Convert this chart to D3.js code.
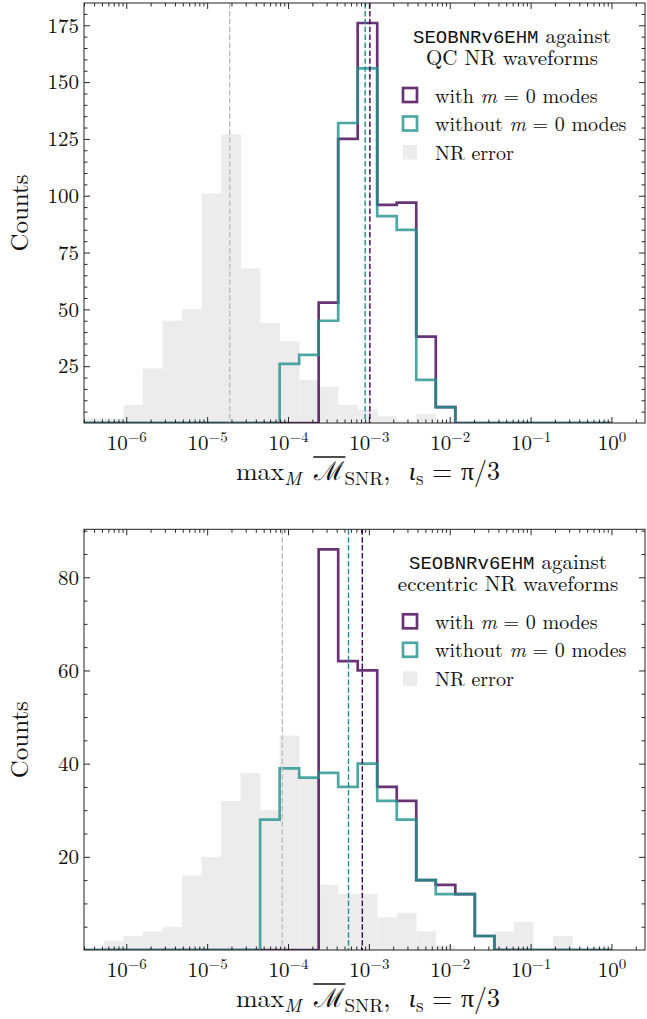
<!DOCTYPE html>
<html lang="en">
<head>
<meta charset="utf-8">
<title>SEOBNRv6EHM mismatch histograms</title>
<script src="https://cdn.jsdelivr.net/npm/d3@7"></script>
<style>
  html, body { margin: 0; padding: 0; background: #fff; }
  svg { display: block; }
  text { font-family: "Latin Modern Roman", "CMU Serif", "Liberation Serif", serif; fill: #111; }
  .tt { font-family: "Liberation Mono", "DejaVu Sans Mono", monospace; }
</style>
</head>
<body>
<svg id="fig" width="647" height="1019"></svg>
<script>

// 29 log-spaced bins between 1e-7 and 1 (edges as log10 exponents)
const binEdges = d3.range(30).map(k => -7 + k * 7 / 29);

// counts per bin -- QC NR set (top panel)
const qcNrError = [0,0,2,2,8,24,45,50,101,127,68,44,36,19,16,8,6,3,1,4,1,0,0,0,0,0,0,0,0];
const qcWith    = [0,0,0,0,0,0,0,0,0,0,0,0,0,0,53,125,176,96,97,38,7,0,0,0,0,0,0,0,0];
const qcWithout = [0,0,0,0,0,0,0,0,0,0,0,0,26,30,45,132,156,91,85,19,7,0,0,0,0,0,0,0,0];
// medians [NR error, with m=0, without m=0]
const qcMedians = [1.9e-5, 1.03e-3, 9.0e-4];

// counts per bin -- eccentric NR set (bottom panel)
const eccNrError = [0,0,0,2,3,4,5,16,20,32,38,30,46,37,14,12,12,7,8,4,1,0,0,4,6,0,3,0,0];
const eccWith    = [0,0,0,0,0,0,0,0,0,0,0,0,0,0,86,62,60,35,32,15,14,12,3,0,0,0,0,0,0];
const eccWithout = [0,0,0,0,0,0,0,0,0,0,0,28,39,37,38,35,40,32,28,15,12,12,3,0,0,0,0,0,0];
const eccMedians = [8.5e-5, 8.3e-4, 5.6e-4];

const xTickExps = [-6, -5, -4, -3, -2, -1, 0];
const legendLabels = ["with", "without", "NR error"];

const cols = {
  with: "#440154",
  without: "#21918c",
  nr: "#ececec",
  nrLine: "#bdbdbd"
};

const svg = d3.select("#fig");
const left = 84, right = 645;

const x = d3.scaleLog().domain([3e-7, 2.6]).range([left, right]);

// minor ticks 2..9 per decade inside the domain
const xMinor = [];
for (let d = -7; d <= 0; d++) {
  for (let m = 2; m <= 9; m++) {
    const v = m * Math.pow(10, d);
    if (v >= 3e-7 && v <= 2.6) xMinor.push(v);
  }
}

const panels = [
  { id: "qc", top: 3, bottom: 423, nr: qcNrError, w: qcWith, wo: qcWithout, med: qcMedians,
    yStep: 25, title2: "QC NR waveforms", titleX: 512 },
  { id: "ecc", top: 529.3, bottom: 950, nr: eccNrError, w: eccWith, wo: eccWithout, med: eccMedians,
    yStep: 20, title2: "eccentric NR waveforms", titleX: 508 }
];

panels.forEach(drawPanel);

function drawPanel(p) {
  const g = svg.append("g");
  const yMax = d3.max(p.w.concat(p.wo, p.nr)) * 1.05;
  const y = d3.scaleLinear().domain([0, yMax]).range([p.bottom, p.top]);

  g.append("clipPath").attr("id", "clip-" + p.id)
    .append("rect").attr("x", left).attr("y", p.top)
    .attr("width", right - left).attr("height", p.bottom - p.top);

  const plot = g.append("g").attr("clip-path", "url(#clip-" + p.id + ")");

  // NR error: filled bars
  const bins = p.nr.map((c, i) => ({ c: c, lo: Math.pow(10, binEdges[i]), hi: Math.pow(10, binEdges[i + 1]) }))
    .filter(b => b.c > 0);
  plot.selectAll("rect.nr").data(bins).enter()
    .append("rect").attr("class", "nr")
    .attr("x", b => x(b.lo))
    .attr("width", b => x(b.hi) - x(b.lo) + 0.3)
    .attr("y", b => y(b.c))
    .attr("height", b => y(0) - y(b.c))
    .attr("fill", cols.nr);

  // step outlines
  const step = d3.line().curve(d3.curveStepAfter).x(d => x(d[0])).y(d => y(d[1]));
  function stepPts(counts) {
    const pts = [[Math.pow(10, binEdges[0]), 0]];
    counts.forEach((c, i) => pts.push([Math.pow(10, binEdges[i]), c]));
    const last = counts.length;
    pts.push([Math.pow(10, binEdges[last]), counts[last - 1]]);
    pts.push([Math.pow(10, binEdges[last]), 0]);
    return pts;
  }
  [[p.w, cols.with], [p.wo, cols.without]].forEach(([counts, c]) => {
    plot.append("path").datum(stepPts(counts))
      .attr("d", step)
      .attr("fill", "none")
      .attr("stroke", c)
      .attr("stroke-opacity", 0.8)
      .attr("stroke-width", 2.7)
      .attr("stroke-linejoin", "miter");
  });

  // medians
  [[p.med[0], cols.nrLine], [p.med[2], cols.without], [p.med[1], cols.with]].forEach(([v, c]) => {
    plot.append("line")
      .attr("x1", x(v)).attr("x2", x(v))
      .attr("y1", p.top).attr("y2", p.bottom)
      .attr("stroke", c)
      .attr("stroke-width", 1.4)
      .attr("stroke-dasharray", "5.5,2.4");
  });

  // axes, ticks pointing inward on all four sides
  const yMajor = d3.range(p.yStep, yMax, p.yStep);
  const yMinor = d3.range(5, yMax, 5).filter(v => v % p.yStep !== 0);
  const xMajor = xTickExps.map(e => Math.pow(10, e));

  const axB = g.append("g").attr("transform", `translate(0,${p.bottom})`)
    .call(d3.axisBottom(x).tickValues(xMajor).tickSize(-6).tickSizeOuter(0).tickPadding(0));
  g.append("g").attr("transform", `translate(0,${p.bottom})`)
    .call(d3.axisBottom(x).tickValues(xMinor).tickSize(-3.5).tickSizeOuter(0).tickFormat(""));
  g.append("g").attr("transform", `translate(0,${p.top})`)
    .call(d3.axisTop(x).tickValues(xMajor).tickSize(-6).tickSizeOuter(0).tickFormat(""));
  g.append("g").attr("transform", `translate(0,${p.top})`)
    .call(d3.axisTop(x).tickValues(xMinor).tickSize(-3.5).tickSizeOuter(0).tickFormat(""));

  g.append("g").attr("transform", `translate(${left},0)`)
    .call(d3.axisLeft(y).tickValues(yMajor).tickSize(-6).tickSizeOuter(0).tickPadding(5).tickFormat(d3.format("d")));
  g.append("g").attr("transform", `translate(${left},0)`)
    .call(d3.axisLeft(y).tickValues(yMinor).tickSize(-3.5).tickSizeOuter(0).tickFormat(""));
  g.append("g").attr("transform", `translate(${right},0)`)
    .call(d3.axisRight(y).tickValues(yMajor).tickSize(-6).tickSizeOuter(0).tickFormat(""));
  g.append("g").attr("transform", `translate(${right},0)`)
    .call(d3.axisRight(y).tickValues(yMinor).tickSize(-3.5).tickSizeOuter(0).tickFormat(""));

  g.selectAll(".domain").remove();
  g.selectAll(".tick line").attr("stroke", "#111").attr("stroke-width", 0.9);
  g.selectAll(".tick text").attr("font-family", null).style("font-size", "21px").attr("fill", "#111");

  // x tick labels as 10^n
  axB.selectAll(".tick text").each(function(d) {
    const t = d3.select(this).text(null).attr("dy", null).attr("y", 27);
    t.append("tspan").text("10");
    t.append("tspan").attr("dy", -8).style("font-size", "15px")
      .text(String(Math.round(Math.log10(d))).replace("-", "\u2212"));
  });

  // frame
  g.append("rect").attr("x", left).attr("y", p.top)
    .attr("width", right - left).attr("height", p.bottom - p.top)
    .attr("fill", "none").attr("stroke", "#222").attr("stroke-width", 1);

  // y label
  g.append("text")
    .attr("transform", `translate(28,${(p.top + p.bottom) / 2}) rotate(-90)`)
    .attr("text-anchor", "middle")
    .style("font-size", "25px")
    .text("Counts");

  // x label: max_M  overline{calM}_SNR,  iota_s = pi/3
  const xl = g.append("text")
    .attr("x", 368).attr("y", p.bottom + 57)
    .attr("text-anchor", "middle")
    .style("font-size", "26px");
  xl.append("tspan").text("max");
  xl.append("tspan").attr("dy", 5).style("font-size", "19px").style("font-style", "italic").text("M");
  xl.append("tspan").attr("dy", -5).text("\u2002");
  xl.append("tspan").style("font-family", "'DejaVu Serif', serif").style("font-size", "26px").text("\u2133");
  xl.append("tspan").attr("dy", 5).style("font-size", "19px").text("SNR");
  xl.append("tspan").attr("dy", -5).text(",\u2002\u2009");
  xl.append("tspan").style("font-style", "italic").text("\u03b9");
  xl.append("tspan").attr("dy", 5).style("font-size", "19px").text("s");
  xl.append("tspan").attr("dy", -5).text(" = \u03c0/3");
  const mb = xl.node().getExtentOfChar(5);
  g.append("line")
    .attr("x1", mb.x - 1).attr("x2", mb.x + mb.width + 1)
    .attr("y1", mb.y + 1).attr("y2", mb.y + 1)
    .attr("stroke", "#111").attr("stroke-width", 1.6);

  // legend
  const lg = g.append("g");
  const t1 = lg.append("text").attr("x", p.titleX).attr("y", p.top + 40)
    .attr("text-anchor", "middle").style("font-size", "21px");
  t1.append("tspan").attr("class", "tt").style("font-size", "19px").text("SEOBNRv6EHM");
  t1.append("tspan").text(" against");
  lg.append("text").attr("x", p.titleX).attr("y", p.top + 62)
    .attr("text-anchor", "middle").style("font-size", "21px").text(p.title2);

  const rows = [
    { label: legendLabels[0], color: cols.with, off: 85 },
    { label: legendLabels[1], color: cols.without, off: 113.5 },
    { label: legendLabels[2], color: cols.nr, off: 142 }
  ];
  rows.forEach((r, i) => {
    if (i < 2) {
      lg.append("rect").attr("x", 403).attr("y", p.top + r.off).attr("width", 14).attr("height", 14)
        .attr("fill", "none").attr("stroke", r.color).attr("stroke-opacity", 0.8).attr("stroke-width", 2.7);
      const t = lg.append("text").attr("x", 435).attr("y", p.top + r.off + 14.5).style("font-size", "20px");
      t.append("tspan").text(r.label + " ");
      t.append("tspan").style("font-style", "italic").text("m");
      t.append("tspan").text(" = 0 modes");
    } else {
      lg.append("rect").attr("x", 403).attr("y", p.top + r.off).attr("width", 14).attr("height", 14.5)
        .attr("fill", r.color);
      lg.append("text").attr("x", 435).attr("y", p.top + r.off + 14.5).style("font-size", "20px").text(r.label);
    }
  });
}
</script>
</body>
</html>
